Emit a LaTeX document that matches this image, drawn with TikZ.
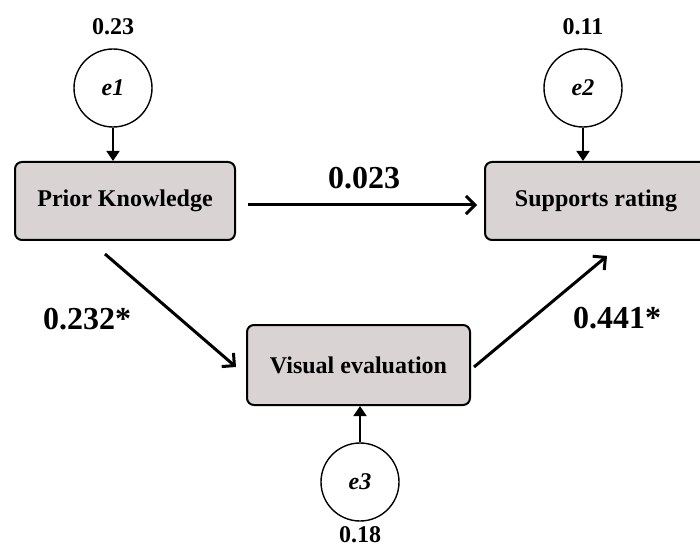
\documentclass[tikz,border=0pt]{standalone}
\usepackage{fontspec}
\setmainfont{Liberation Serif}
\usetikzlibrary{arrows.meta}
\definecolor{boxgray}{RGB}{217,211,211}

\begin{document}
\begin{tikzpicture}[x=0.5pt,y=-0.5pt]
\tikzstyle{var}=[draw,line width=1pt,fill=boxgray,rounded corners=3.5pt,minimum width=110pt,minimum height=39pt,font=\fontsize{12}{14}\selectfont\bfseries]
\tikzstyle{err}=[draw,line width=0.7pt,circle,minimum size=39pt,font=\fontsize{12}{14}\selectfont\bfseries\itshape]
\tikzstyle{var label}=[font=\fontsize{12}{14}\selectfont\bfseries]
\tikzstyle{coef}=[font=\fontsize{16}{19}\selectfont\bfseries]
\tikzstyle{path}=[line width=1.5pt,-{Straight Barb[length=4.5pt,width=9pt,line width=1.5pt]}]
\tikzstyle{errpath}=[line width=0.75pt,-{Triangle[length=5pt,width=6.5pt]}]
\clip (0,0) rectangle (700,550);
\useasboundingbox (0,0) rectangle (700,550);

% observed variables
\node[var] (pk) at (125,201) {Prior Knowledge};
\node[var,minimum width=111pt] (sr) at (596,201) {Supports rating};
\node[var,minimum width=111.5pt,minimum height=40pt] (ve) at (358.5,365) {Visual evaluation};

% error terms
\node[err] (e1) at (113,88) {e1};
\node[err] (e2) at (583,88) {e2};
\node[err] (e3) at (360,482) {e3};
\node[var label] (v1) at (113,27) {0.23};
\node[var label] (v2) at (583,27) {0.11};
\node[var label] (v3) at (360,535) {0.18};

\draw[errpath] (e1) -- (e1 |- pk.north);
\draw[errpath] (e2) -- (e2 |- sr.north);
\draw[errpath] (e3) -- (e3 |- ve.south);

% structural paths
\draw[path] ([xshift=6pt,yshift=-2pt]pk.east) -- ([xshift=-3.5pt,yshift=-2pt]sr.west);
\draw[path] ([xshift=-10pt,yshift=-6.5pt]pk.south) -- ([xshift=-5pt,yshift=-1pt]ve.west);
\draw[path] ([xshift=1.5pt,yshift=-1pt]ve.east) -- ([xshift=5.5pt,yshift=-7.5pt]sr.south);

\node[coef] (c1) at (364,178) {0.023};
\node[coef] (c2) at (87,319) {0.232*};
\node[coef] (c3) at (617,318) {0.441*};
\end{tikzpicture}
\end{document}
